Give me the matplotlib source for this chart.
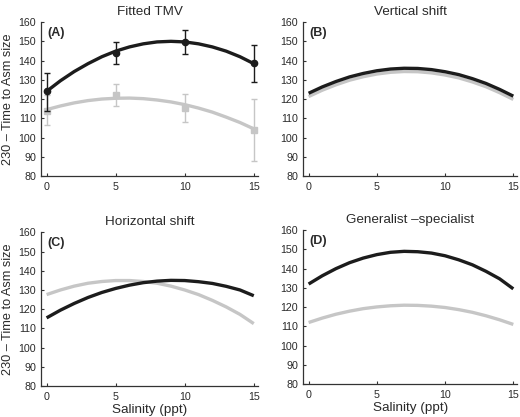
import numpy as np
import matplotlib
matplotlib.use("Agg")
import matplotlib.pyplot as plt

plt.rcParams['font.family'] = ['Liberation Sans', 'DejaVu Sans']

# salinity grid used for the curves (ppt)
sal = list(range(16))

# (A) fitted TMV - observed means and error bars
obs_x = [0, 5, 10, 15]
blk_mean = [124, 144, 149.5, 138.5]
blk_lo = [114, 138, 143.5, 129]
blk_hi = [133.5, 149.5, 156, 148]
gry_mean = [114, 122, 115.5, 104]
gry_lo = [106.5, 116.5, 108, 88]
gry_hi = [122, 128, 122.5, 120]

# curves
a_blk = [124, 129.5, 134.3, 138.4, 142.0, 144.9, 147.1, 148.7, 149.7, 150.0, 149.7, 148.7, 147.1, 144.9, 142.0, 138.4]
a_gry = [114.5, 116.4, 118.0, 119.2, 120.0, 120.4, 120.5, 120.2, 119.5, 118.5, 117.1, 115.3, 113.2, 110.6, 107.8, 104.5]
b_blk = [123.0, 126.3, 129.1, 131.5, 133.3, 134.7, 135.6, 136.0, 135.9, 135.3, 134.2, 132.7, 130.6, 128.1, 125.0, 121.5]
b_gry = [121.3, 124.6, 127.4, 129.8, 131.6, 133.0, 133.9, 134.3, 134.2, 133.6, 132.5, 131.0, 128.9, 126.4, 123.3, 119.8]
c_blk = [115.5, 119.5, 123.0, 126.1, 128.7, 130.8, 132.5, 133.8, 134.6, 135.0, 134.9, 134.3, 133.4, 131.9, 130.0, 127.0]
c_gry = [127.6, 130.0, 132.0, 133.5, 134.4, 134.9, 134.9, 134.4, 133.5, 132.0, 130.0, 127.6, 124.6, 121.2, 117.3, 112.5]
d_blk = [132.0, 136.3, 140.0, 143.1, 145.5, 147.3, 148.5, 149.0, 148.8, 148.1, 146.7, 144.6, 142.0, 138.6, 134.7, 129.5]
d_gry = [112.0, 114.3, 116.3, 117.9, 119.2, 120.1, 120.7, 121.0, 120.9, 120.5, 119.8, 118.7, 117.3, 115.5, 113.4, 111.0]

titles = ['Fitted TMV', 'Vertical shift', 'Horizontal shift', 'Generalist \u2013specialist']
tags = ['(A)', '(B)', '(C)', '(D)']
curves = [(a_blk, a_gry), (b_blk, b_gry), (c_blk, c_gry), (d_blk, d_gry)]

BLK = '#1c1c1c'
GRY = '#c6c6c6'
TXT = '#2a2a2a'

fig = plt.figure(figsize=(5.2, 4.17), dpi=100)
# axes boxes in figure fractions
boxes = [
    [0.079, 0.578, 0.417, 0.369],
    [0.583, 0.578, 0.412, 0.369],
    [0.079, 0.074, 0.417, 0.369],
    [0.583, 0.079, 0.412, 0.369],
]

for i in range(4):
    ax = fig.add_axes(boxes[i])
    blk, gry = curves[i]
    ax.plot(sal, gry, color=GRY, lw=2.4, solid_capstyle='butt', zorder=2)
    ax.plot(sal, blk, color=BLK, lw=2.4, solid_capstyle='butt', zorder=3)
    if i == 0:
        gm = np.array(gry_mean)
        ax.errorbar(obs_x, gm, yerr=[gm - np.array(gry_lo), np.array(gry_hi) - gm],
                    fmt='s', ms=4.5, color=GRY, ecolor=GRY, elinewidth=1, capsize=2.5, zorder=2)
        bm = np.array(blk_mean)
        ax.errorbar(obs_x, bm, yerr=[bm - np.array(blk_lo), np.array(blk_hi) - bm],
                    fmt='o', ms=4.5, color=BLK, ecolor=BLK, elinewidth=1, capsize=2.5, zorder=4)
    ax.set_xlim(-0.4, 15.3)
    ax.set_ylim(80, 160)
    ax.set_xticks([0, 5, 10, 15])
    ax.set_yticks(range(80, 161, 10))
    for s in ['top', 'right']:
        ax.spines[s].set_visible(False)
    for s in ['left', 'bottom']:
        ax.spines[s].set_color('#333333')
        ax.spines[s].set_linewidth(0.9)
    ax.tick_params(direction='in', length=2, width=0.8, labelsize=7.7,
                   colors='#333333', labelcolor=TXT)
    ax.tick_params(axis='y', pad=3.5)
    ax.tick_params(axis='x', pad=4.5)
    ax.set_title(titles[i], fontsize=9.7, color=TXT, pad=5)
    ax.text(0.03, 0.97, tags[i], transform=ax.transAxes, fontsize=9,
            fontweight='bold', color=TXT, va='top', ha='left')
    if i in (0, 2):
        ax.set_ylabel('230 \u2013 Time to Asm size', fontsize=9.2, color=TXT, labelpad=3)
    if i in (2, 3):
        ax.set_xlabel('Salinity (ppt)', fontsize=9.7, color=TXT, labelpad=1)

fig.savefig('out.png', dpi=100)
